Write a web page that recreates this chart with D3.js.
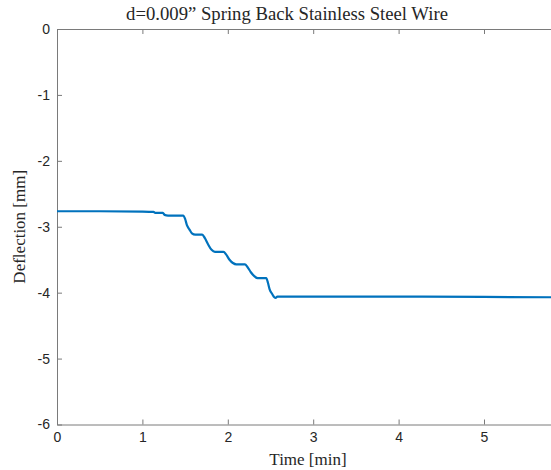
<!DOCTYPE html>
<html lang="en">
<head>
    <meta charset="UTF-8">
    <title>Spring Back Stainless Steel Wire</title>
    <script src="https://d3js.org/d3.v7.min.js"></script>
    <style>
        body { margin: 0; background: #fff; }
        .tick text { font-family: "Liberation Sans", Arial, sans-serif; font-size: 14px; fill: #262626; }
        .lbl { font-family: "Liberation Serif", "Times New Roman", serif; font-size: 17px; fill: #262626; }
    </style>
</head>
<body>
    <svg width="551" height="470"></svg>
    <script>
        // values
        const timeMin = [0, 0.5, 1.0, 1.13, 1.15, 1.2, 1.24, 1.26, 1.3, 1.48, 1.5, 1.52, 1.55, 1.58, 1.62,
            1.70, 1.73, 1.77, 1.81, 1.85, 1.95, 1.98, 2.02, 2.06, 2.10, 2.20, 2.23, 2.27, 2.31, 2.35,
            2.45, 2.47, 2.49, 2.52, 2.545, 2.56, 2.58, 2.65, 3, 4, 5, 5.9];
        const deflection = [-2.765, -2.765, -2.77, -2.775, -2.79, -2.79, -2.79, -2.82, -2.83, -2.83, -2.88, -2.97, -3.04, -3.10, -3.12,
            -3.12, -3.17, -3.27, -3.35, -3.38, -3.38, -3.42, -3.50, -3.55, -3.57, -3.57, -3.61, -3.69, -3.75, -3.78,
            -3.78, -3.85, -3.95, -4.02, -4.07, -4.08, -4.06, -4.06, -4.06, -4.06, -4.065, -4.07];
        const xTicks = [0, 1, 2, 3, 4, 5];
        const yTicks = [0, -1, -2, -3, -4, -5, -6];

        const svg = d3.select("svg");
        const mLeft = 57, mTop = 29, mBottom = 424.5;
        const unitX = 85.4;

        const x = d3.scaleLinear().domain([0, 6]).range([mLeft, mLeft + 6 * unitX]);
        const y = d3.scaleLinear().domain([-6, 0]).range([mBottom, mTop]);
        const axisColor = "#7a7a7a";

        // bottom and top axes
        const gx = svg.append("g").attr("transform", `translate(0,${mBottom})`)
            .call(d3.axisBottom(x).tickValues(xTicks).tickFormat(d3.format("d")).tickSizeInner(-5).tickSizeOuter(0).tickPadding(8));
        const gxt = svg.append("g").attr("transform", `translate(0,${mTop})`)
            .call(d3.axisTop(x).tickValues(xTicks).tickFormat("").tickSizeInner(-5).tickSizeOuter(0));
        const gy = svg.append("g").attr("transform", `translate(${mLeft},0)`)
            .call(d3.axisLeft(y).tickValues(yTicks).tickFormat(d3.format("d")).tickSizeInner(-5).tickSizeOuter(0).tickPadding(7));

        [gx, gxt, gy].forEach(g => {
            g.select(".domain").attr("stroke", axisColor);
            g.selectAll(".tick line").attr("stroke", axisColor);
        });
        gy.selectAll(".tick text").text(d => d === 0 ? "0" : "-" + Math.abs(d));

        // data line
        const line = d3.line()
            .x((d, i) => x(timeMin[i]))
            .y(d => y(d))
            .curve(d3.curveMonotoneX);

        svg.append("path")
            .datum(deflection)
            .attr("fill", "none")
            .attr("stroke", "#0072BD")
            .attr("stroke-width", 2.2)
            .attr("d", line);

        // labels
        svg.append("text").attr("class", "lbl")
            .attr("x", 287).attr("y", 20).attr("text-anchor", "middle")
            .style("font-size", "18.7px")
            .text("d=0.009\u201D Spring Back Stainless Steel Wire");

        svg.append("text").attr("class", "lbl")
            .attr("x", 308).attr("y", 465).attr("text-anchor", "middle")
            .text("Time [min]");

        svg.append("text").attr("class", "lbl")
            .attr("transform", `translate(25,${(mTop + mBottom) / 2}) rotate(-90)`)
            .attr("text-anchor", "middle")
            .text("Deflection [mm]");
    </script>
</body>
</html>
